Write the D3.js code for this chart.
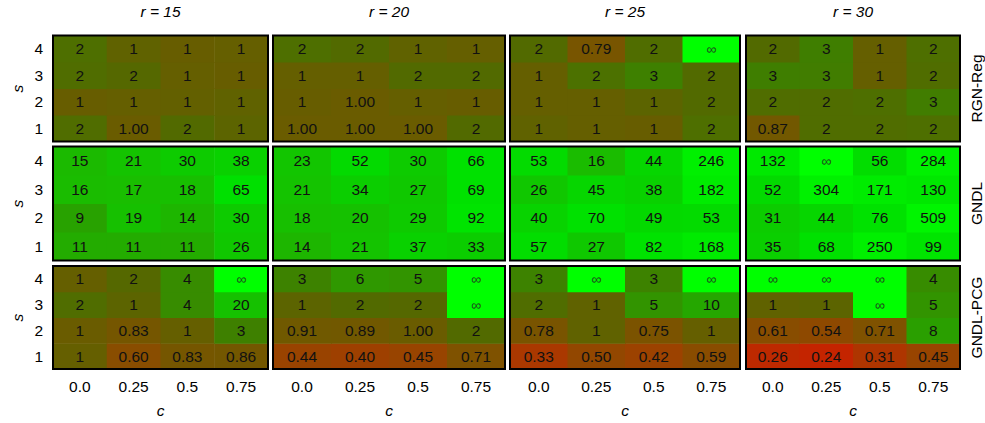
<!DOCTYPE html>
<html><head><meta charset="utf-8">
<script src="https://cdn.jsdelivr.net/npm/d3@7/dist/d3.min.js"></script>
<style>
body{margin:0;background:#fff;}
svg text{font-family:"Liberation Sans",Arial,Helvetica,sans-serif;}
</style></head>
<body><svg id="chart" width="985" height="423"></svg>
<script>
// ---------- data ----------
const methods = ["RGN-Reg", "GNDL", "GNDL-PCG"];
const rValues = [15, 20, 25, 30];
const cLabels = ["0.0", "0.25", "0.5", "0.75"];
const sLabels = ["1", "2", "3", "4"];
const INF = Infinity;
// each grid: rows s = 1..4, columns c = 0.0, 0.25, 0.5, 0.75
const rgnReg = [
  [[1.7, 0.998, 1.6, 1.3], [1.05, 1.1, 1.15, 1.2], [1.7, 1.5, 1.1, 1.05], [1.8, 1.2, 1.05, 1.1]],
  [[0.996, 0.997, 0.997, 1.6], [1.05, 0.999, 1.1, 1.05], [1.1, 1.1, 1.6, 1.6], [1.8, 1.6, 1.2, 1.1]],
  [[1.2, 1.1, 1.05, 1.8], [1.1, 1.1, 1.3, 1.6], [1.1, 1.9, 2.8, 1.6], [1.6, 0.79, 1.7, INF]],
  [[0.87, 1.7, 1.7, 1.8], [1.7, 1.7, 1.8, 2.6], [2.7, 2.6, 1.1, 1.7], [1.6, 2.7, 1.1, 1.8]]
];
const gndl = [
  [[11, 11, 11, 26], [9, 19, 14, 30], [16, 17, 18, 65], [15, 21, 30, 38]],
  [[14, 21, 37, 33], [18, 20, 29, 92], [21, 34, 27, 69], [23, 52, 30, 66]],
  [[57, 27, 82, 168], [40, 70, 49, 53], [26, 45, 38, 182], [53, 16, 44, 246]],
  [[35, 68, 250, 99], [31, 44, 76, 509], [52, 304, 171, 130], [132, INF, 56, 284]]
];
const gndlPcg = [
  [[1.1, 0.60, 0.83, 0.86], [1.0, 0.83, 1.1, 2.8], [1.7, 1.3, 4, 20], [1.1, 1.5, 4, INF]],
  [[0.44, 0.40, 0.45, 0.71], [0.91, 0.89, 0.998, 1.6], [1.3, 1.6, 1.5, INF], [3, 6, 5, INF]],
  [[0.33, 0.50, 0.42, 0.59], [0.78, 1.2, 0.75, 1.1], [1.7, 1.2, 5, 10], [3, INF, 3, INF]],
  [[0.26, 0.24, 0.31, 0.45], [0.61, 0.54, 0.71, 8], [1.2, 1.3, INF, 5], [INF, INF, INF, 4]]
];
const grids = [rgnReg, gndl, gndlPcg];

// ---------- layout ----------
const panelX = [53, 273, 510, 746];
const panelW = [215, 232, 230, 214];
const rowY = [35.5, 146.5, 266];
const rowH = [106, 114, 103];

// colour scale on log10(value)
const colorStops = [
  [-0.62, "#c42400"], [-0.5, "#ac3600"], [-0.35, "#984400"], [-0.2, "#864e00"],
  [0, "#6a5c00"], [0.2, "#526a00"], [0.45, "#3e8000"], [0.7, "#329400"],
  [0.95, "#28a200"], [1.2, "#1abc00"], [1.5, "#0ccc00"], [1.8, "#00e000"],
  [2.4, "#00f000"], [2.8, "#00f600"]
];
const colorScale = d3.scaleLinear()
  .domain(colorStops.map(d => d[0]))
  .range(colorStops.map(d => d[1]))
  .interpolate(d3.interpolateRgb)
  .clamp(true);
const colorOf = v => v === Infinity ? "#00ff00" : colorScale(Math.log10(v));
const fmt = v => v === Infinity ? "\u221e" : (v < 1 ? v.toFixed(2) : String(Math.round(v)));

const FS = 15.5;
const svg = d3.select("#chart");

rValues.forEach((r, j) => {
  svg.append("text")
    .attr("x", panelX[j] + panelW[j] / 2).attr("y", 12)
    .attr("dy", "0.35em")
    .attr("text-anchor", "middle").attr("font-size", FS).attr("font-style", "italic")
    .text("r = " + r);
});

methods.forEach((m, i) => {
  const y = d3.scaleBand().domain(sLabels.slice().reverse()).range([rowY[i], rowY[i] + rowH[i]]);
  svg.append("text")
    .attr("transform", `translate(18,${rowY[i] + rowH[i] / 2}) rotate(-90)`)
    .attr("text-anchor", "middle").attr("font-size", FS).attr("font-style", "italic")
    .attr("dy", "0.3em").text("s");
  sLabels.forEach(s => {
    svg.append("text").attr("x", 43).attr("y", y(s) + y.bandwidth() / 2)
      .attr("dy", "0.36em").attr("text-anchor", "end").attr("font-size", FS).text(s);
  });
  svg.append("text")
    .attr("transform", `translate(977,${rowY[i] + rowH[i] / 2}) rotate(-90)`)
    .attr("text-anchor", "middle").attr("dy", "0.35em").attr("font-size", FS).text(m);

  rValues.forEach((r, j) => {
    const x = d3.scaleBand().domain(cLabels).range([panelX[j], panelX[j] + panelW[j]]);
    const g = svg.append("g");
    const cells = [];
    grids[i][j].forEach((row, si) => row.forEach((v, ci) => cells.push({s: sLabels[si], c: cLabels[ci], v})));
    g.selectAll("rect.cell").data(cells).join("rect").attr("class", "cell")
      .attr("x", d => x(d.c)).attr("y", d => y(d.s))
      .attr("width", x.bandwidth() + 0.5).attr("height", y.bandwidth() + 0.5)
      .attr("fill", d => colorOf(d.v));
    g.selectAll("text.val").data(cells).join("text").attr("class", "val")
      .attr("x", d => x(d.c) + x.bandwidth() / 2).attr("y", d => y(d.s) + y.bandwidth() / 2)
      .attr("dy", "0.36em").attr("text-anchor", "middle")
      .attr("font-size", d => d.v === Infinity ? 14 : FS)
      .attr("fill", d => d.v === Infinity ? "#1d4d1d" : "#111")
      .text(d => fmt(d.v));
    g.append("rect").attr("x", panelX[j]).attr("y", rowY[i])
      .attr("width", panelW[j]).attr("height", rowH[i])
      .attr("fill", "none").attr("stroke", "#000").attr("stroke-width", 2);

    if (i === methods.length - 1) {
      cLabels.forEach(c => {
        svg.append("text").attr("x", x(c) + x.bandwidth() / 2).attr("y", 386)
          .attr("dy", "0.36em").attr("text-anchor", "middle").attr("font-size", FS).text(c);
      });
      svg.append("text").attr("x", panelX[j] + panelW[j] / 2).attr("y", 411)
        .attr("dy", "0.3em").attr("text-anchor", "middle").attr("font-size", FS)
        .attr("font-style", "italic").text("c");
    }
  });
});
</script></body></html>
